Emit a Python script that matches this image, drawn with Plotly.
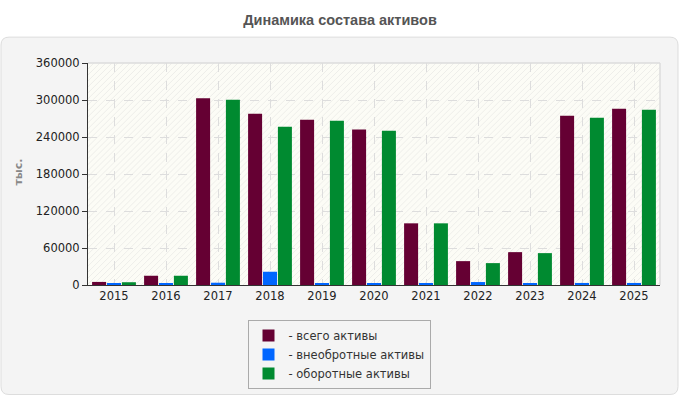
import plotly.graph_objects as go

years = ["2015", "2016", "2017", "2018", "2019", "2020", "2021", "2022", "2023", "2024", "2025"]
total_assets = [5000, 15000, 303000, 277500, 268000, 252000, 100000, 38700, 53300, 274400, 285700]
noncurrent_assets = [1800, 1800, 3700, 21500, 1800, 1800, 1800, 4800, 1800, 3300, 3300]
current_assets = [4500, 15000, 300300, 256700, 266400, 250200, 100000, 35500, 51700, 271200, 284100]

series_names = ["- всего активы", "- внеобротные активы", "- оборотные активы"]
series_colors = ["#650033", "#0066FF", "#008A30"]
y_ticks = [0, 60000, 120000, 180000, 240000, 300000, 360000]

W, H = 680, 400
L, R, T, B = 88, 660, 63, 286  # plot area in pixels


def px(x):
    return (x - L) / (R - L)


def py(y):
    return (B - y) / (B - T)


fig = go.Figure()
for name, vals, col in zip(series_names, [total_assets, noncurrent_assets, current_assets], series_colors):
    fig.add_trace(go.Bar(x=years, y=vals, name=name, marker=dict(color=col, line=dict(width=0))))

shapes = []
# outer rounded panel
x0, y0, x1, y1, r = 1, 37, 678, 396, 8
path = (
    f"M {px(x0 + r)} {py(y0)} L {px(x1 - r)} {py(y0)} Q {px(x1)} {py(y0)} {px(x1)} {py(y0 + r)} "
    f"L {px(x1)} {py(y1 - r)} Q {px(x1)} {py(y1)} {px(x1 - r)} {py(y1)} "
    f"L {px(x0 + r)} {py(y1)} Q {px(x0)} {py(y1)} {px(x0)} {py(y1 - r)} "
    f"L {px(x0)} {py(y0 + r)} Q {px(x0)} {py(y0)} {px(x0 + r)} {py(y0)} Z"
)
shapes.append(dict(type="path", xref="paper", yref="paper", path=path,
                   fillcolor="#F4F4F4", line=dict(color="#DDDDDD", width=1), layer="below"))
# plot area background
shapes.append(dict(type="rect", xref="paper", yref="paper", x0=0, y0=0, x1=1, y1=1,
                   fillcolor="#FCFCF6", line=dict(width=0), layer="below"))
# hatching
c = L + T
while c <= R + B:
    xa = max(L, c - B)
    xb = min(R, c - T)
    if xb > xa:
        shapes.append(dict(type="line", xref="paper", yref="paper",
                           x0=px(xa), y0=py(c - xa), x1=px(xb), y1=py(c - xb),
                           line=dict(color="#EEEEEA", width=1), layer="below"))
    c += 6
# top and right frame
shapes.append(dict(type="line", xref="paper", yref="paper", x0=0, y0=1, x1=1, y1=1,
                   line=dict(color="#DDDDDD", width=1.5), layer="below"))
shapes.append(dict(type="line", xref="paper", yref="paper", x0=1, y0=0, x1=1, y1=1,
                   line=dict(color="#DDDDDD", width=1.5), layer="below"))

fig.update_layout(
    width=W, height=H,
    margin=dict(l=L, r=W - R, t=T, b=H - B),
    paper_bgcolor="white",
    plot_bgcolor="rgba(0,0,0,0)",
    font=dict(family="DejaVu Sans", size=11, color="#222222"),
    barmode="group", bargap=0.14, bargroupgap=0.06,
    shapes=shapes,
    title=dict(text="<b>Динамика состава активов</b>", xref="container", yref="container",
               x=0.5, y=1 - 20 / H, xanchor="center", yanchor="middle",
               font=dict(family="Liberation Sans", size=14.5, color="#555555")),
    legend=dict(x=px(339), y=py(320), xanchor="center", yanchor="top",
                bgcolor="#F4F4F4", bordercolor="#AAAAAA", borderwidth=1,
                font=dict(family="DejaVu Sans", size=11.5, color="#333333"),
                tracegroupgap=0, itemwidth=30),
    showlegend=True,
    annotations=[dict(text="<b>тыс.</b>", xref="paper", yref="paper", x=px(19), y=py(173),
                      textangle=-90, showarrow=False, xanchor="center", yanchor="middle",
                      font=dict(family="DejaVu Sans", size=11, color="#888888"))],
)
fig.update_xaxes(type="category", showline=True, linecolor="#333333", linewidth=1,
                 showgrid=True, gridcolor="#DDDDDD", griddash="dash", gridwidth=1,
                 ticks="", tickfont=dict(size=11.5), fixedrange=True)
fig.update_yaxes(range=[0, 360000], tickvals=y_ticks, ticktext=[str(v) for v in y_ticks],
                 showline=True, linecolor="#333333", linewidth=1, ticks="outside", ticklen=5,
                 tickcolor="#333333", showgrid=True, gridcolor="#DDDDDD", griddash="dash",
                 zeroline=False, tickfont=dict(size=11.5), fixedrange=True)

fig.write_html("out.html")
